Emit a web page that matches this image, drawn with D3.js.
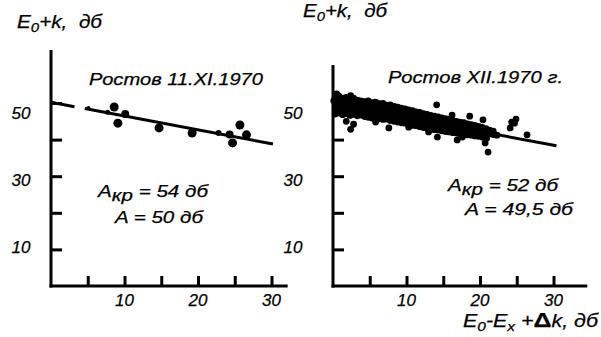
<!DOCTYPE html>
<html><head><meta charset="utf-8">
<script src="https://cdn.jsdelivr.net/npm/d3@7"></script>
<style>body{margin:0;background:#fff}svg{display:block}text{font-family:"Liberation Sans",Arial,sans-serif;font-style:italic;fill:#000;stroke:#000;stroke-width:0.25px}</style>
</head><body><svg id="c" width="601" height="337"></svg>
<script>
// ---- data ----
const xTickValues = [5, 10, 15, 20, 25, 30];
const xTickLabels = [10, 20, 30];
const yTickValues = [10, 20, 30, 40, 50];
const yTickLabels = [10, 30, 50];

// left panel: Ростов 11.XI.1970
const leftX = [7.7, 8.6, 9.1, 10.1, 14.7, 19.2, 22.8, 24.7, 25.7, 26.6, 5.1, 24.3];
const leftY = [47.5, 48.9, 44.5, 47.0, 43.2, 41.8, 41.8, 39.1, 44.0, 41.3, 48.6, 41.4];
const leftR = [2.5, 4.5, 4.5, 4, 4.5, 4.5, 3, 4.5, 4.5, 4.5, 2, 4];
const leftLineX = [[0, 3.2], [4.6, 30.2]];
const leftLineY = [[50.2, 49.0], [48.5, 38.8]];

// right panel: Ростов XII.1970 г.
const rightX = [
 0.3,0.3,0.3, 0.8,0.8,0.8, 1.3,1.3,1.3, 1.8,1.8,1.8, 2.3,2.3,2.3, 2.8,2.8,2.8, 3.3,3.3,3.3, 3.8,3.8,3.8,
 4.3,4.3,4.3, 4.8,4.8,4.8, 5.3,5.3,5.3, 5.8,5.8,5.8, 6.3,6.3,6.3, 6.8,6.8,6.8, 7.3,7.3,7.3, 7.8,7.8,7.8,
 8.3,8.3,8.3, 8.8,8.8,8.8, 9.3,9.3,9.3, 9.8,9.8,9.8, 10.3,10.3,10.3, 10.8,10.8,10.8, 11.3,11.3,11.3,
 11.8,11.8,11.8, 12.3,12.3,12.3, 12.8,12.8,12.8, 13.3,13.3,13.3, 13.8,13.8,13.8, 14.3,14.3,14.3,
 14.8,14.8,14.8, 15.3,15.3,15.3, 15.8,15.8,15.8, 16.3,16.3,16.3, 16.8,16.8,16.8, 17.3,17.3,17.3,
 17.8,17.8,17.8, 18.3,18.3,18.3, 18.8,18.8,18.8, 19.3,19.3,19.3, 19.8,19.8,19.8, 20.3,20.3,20.3,
 20.8,20.8,20.8, 21.3,21.3, 21.8,21.8, 22.3,
 0.55,0.55, 1.05,1.05, 1.55,1.55, 2.05,2.05, 2.55,2.55, 3.05,3.05, 3.55,3.55, 4.05,4.05, 4.55,4.55,
 5.05,5.05, 5.55,5.55, 6.05,6.05, 6.55,6.55, 7.05,7.05, 7.55,7.55, 8.05,8.05, 8.55,8.55, 9.05,9.05,
 9.55,9.55, 10.05,10.05, 10.55,10.55, 11.05,11.05, 11.55,11.55, 12.05,12.05, 12.55,12.55, 13.05,13.05,
 13.55,13.55, 14.05,14.05, 14.55,14.55, 15.05,15.05, 15.55,15.55, 16.05,16.05, 16.55,16.55, 17.05,17.05,
 17.55,17.55, 18.05,18.05, 18.55,18.55, 19.05,19.05, 19.55,19.55, 20.05,20.05, 20.55,20.55, 21.05, 21.55,
 2.4,1.8,2.8,5.8,7.6,10.3,13.0,14.1,14.2,15.3,16.2,16.9,17.6,18.6,20.4,20.7,20.9,21.1,21.4,
 24.1,24.3,24.7,24.9,26.4,0.5,2.4,0.1,8.6];
const rightY = [
 51.6,49.3,47.0, 51.9,49.6,47.3, 51.3,48.9,46.8, 51.5,49.4,47.1, 51.0,48.7,46.6, 51.3,49.0,46.9, 50.8,48.4,46.5, 50.6,48.6,46.7,
 50.4,48.1,46.3, 50.6,48.3,46.1, 50.1,47.9,45.9, 50.2,48.0,46.0, 49.8,47.7,45.7, 49.9,47.6,45.5, 49.4,47.4,45.6, 49.5,47.2,45.2,
 49.1,47.0,45.0, 48.9,46.8,44.8, 48.6,46.5,44.6, 48.4,46.3,44.5, 48.1,46.0,44.2, 47.9,45.9,43.9, 47.6,45.6,43.8,
 47.4,45.4,43.5, 47.1,45.2,43.3, 46.9,45.0,43.1, 46.6,44.8,42.9, 46.4,44.6,42.7, 46.2,44.4,42.6,
 45.9,44.2,42.4, 45.7,44.0,42.2, 45.5,43.8,42.1, 45.2,43.6,41.9, 45.0,43.4,41.8, 44.8,43.2,41.6,
 44.6,43.0,41.5, 44.3,42.8,41.3, 44.1,42.6,41.2, 43.9,42.4,41.0, 43.6,42.2,40.9, 43.3,42.0,40.7,
 43.0,41.8,40.6, 42.6,41.6, 42.3,41.4, 41.2,
 50.6,48.2, 50.4,48.0, 50.5,47.9, 50.0,47.8, 50.2,47.7, 49.8,47.5, 49.6,47.6, 49.4,47.3, 49.5,47.1,
 49.0,47.0, 49.2,46.9, 48.7,46.8, 48.8,46.5, 48.4,46.4, 48.3,46.2, 48.1,46.0, 47.8,45.8, 47.6,45.5,
 47.4,45.4, 47.0,45.1, 46.9,44.9, 46.7,44.7, 46.4,44.5, 46.2,44.3, 45.9,44.0, 45.7,43.9,
 45.5,43.6, 45.3,43.5, 45.0,43.3, 44.9,43.1, 44.6,42.9, 44.4,42.7, 44.2,42.6, 44.0,42.4,
 43.8,42.2, 43.5,42.0, 43.3,41.9, 43.1,41.7, 42.9,41.6, 42.6,41.4, 42.4,41.2, 42.2, 41.9,
 42.8,45.0,44.2,44.8,43.2,43.4,42.1,49.5,40.7,42.6,46.7,39.9,40.7,46.4,45.4,39.1,40.4,36.6,41.8,
 43.2,44.8,44.5,45.6,41.3,52.5,52.0,50.6,48.9];
const rightLineX = [[0, 30.4]];
const rightLineY = [[49.8, 38.3]];

// ---- drawing ----
const svg = d3.select("#c");
const y = d3.scaleLinear().domain([0, 10]).range([286, 249.4]);
const yLabel = d3.scaleLinear().domain([10, 50]).range([247, 113]);

function panel(cfg) {
  const x = d3.scaleLinear().domain([0, 10]).range([cfg.x0, cfg.x0 + 73.5]);
  const g = svg.append("g");
  const line = d3.line().x(d => x(d[0])).y(d => y(d[1]));
  cfg.lx.forEach((xs, i) => {
    g.append("path").datum(xs.map((v, j) => [v, cfg.ly[i][j]]))
      .attr("d", line).attr("fill", "none").attr("stroke", "#000").attr("stroke-width", 3);
  });
  g.selectAll("circle.p").data(cfg.px.map((v, i) => [v, cfg.py[i], cfg.pr ? cfg.pr[i] : cfg.r]))
    .join("circle").attr("cx", d => x(d[0])).attr("cy", d => y(d[1])).attr("r", d => d[2]).attr("fill", "#000");
  const xAxis = d3.axisTop(x).tickValues(xTickValues).tickSize(10).tickFormat("");
  g.append("g").attr("transform", `translate(0,${y(0)})`).call(xAxis)
    .call(s => { s.select(".domain").remove(); s.selectAll("line").attr("stroke", "#000").attr("stroke-width", 3); });
  const yAxis = d3.axisRight(y).tickValues(yTickValues).tickSize(11).tickFormat("");
  g.append("g").attr("transform", `translate(${x(0)},0)`).call(yAxis)
    .call(s => { s.select(".domain").remove(); s.selectAll("line").attr("stroke", "#000").attr("stroke-width", 3); });
  g.append("line").attr("x1", x(0)).attr("x2", x(0)).attr("y1", cfg.top).attr("y2", y(0) + 1.5)
    .attr("stroke", "#000").attr("stroke-width", 3);
  g.append("line").attr("x1", x(0) - 1.5).attr("x2", x(cfg.xmax)).attr("y1", y(0)).attr("y2", y(0))
    .attr("stroke", "#000").attr("stroke-width", 3);
  g.selectAll("text.xl").data(xTickLabels).join("text")
    .attr("x", d => x(d)).attr("y", 306).attr("text-anchor", "middle").attr("font-size", 17).text(d => d);
  g.selectAll("text.yl").data(yTickLabels).join("text")
    .attr("x", cfg.ylx).attr("y", d => yLabel(d)).attr("dy", "0.36em").attr("text-anchor", "middle")
    .attr("font-size", 17).text(d => d);
  return x;
}

panel({x0: 51, top: 50, xmax: 32.2, lx: leftLineX, ly: leftLineY, px: leftX, py: leftY, pr: leftR, ylx: 21});
panel({x0: 333, top: 65, xmax: 34.6, lx: rightLineX, ly: rightLineY, px: rightX, py: rightY, r: 3.4, ylx: 293});

function fit(t, len) { t.attr("textLength", len).attr("lengthAdjust", "spacingAndGlyphs"); return t; }

function title(xp, yp, len) {
  const t = svg.append("text").attr("x", xp).attr("y", yp).attr("font-size", 18);
  t.append("tspan").text("E");
  t.append("tspan").attr("font-size", 13).attr("dy", 4).text("0");
  t.append("tspan").attr("dy", -4).text("+k,\u00a0 дб");
  fit(t, len);
}
title(17, 28, 85);
title(303, 17, 84);

fit(svg.append("text").attr("x", 89).attr("y", 85).attr("font-size", 17).text("Ростов 11.XI.1970"), 174);
fit(svg.append("text").attr("x", 388).attr("y", 83).attr("font-size", 17).text("Ростов XII.1970 г."), 175);

function akr(xp, yp, val, len) {
  const t = svg.append("text").attr("x", xp).attr("y", yp).attr("font-size", 17);
  t.append("tspan").text("A");
  t.append("tspan").attr("dy", 4).text("кр");
  t.append("tspan").attr("dy", -4).text(" = " + val + " дб");
  fit(t, len);
}
akr(98, 197, "54", 110);
fit(svg.append("text").attr("x", 115).attr("y", 223).attr("font-size", 17).text("A = 50 дб"), 88);
akr(448, 191, "52", 110);
fit(svg.append("text").attr("x", 465).attr("y", 215).attr("font-size", 17).text("A =  49,5 дб"), 108);

const bl = svg.append("text").attr("x", 463).attr("y", 327).attr("font-size", 18);
bl.append("tspan").text("E");
bl.append("tspan").attr("font-size", 13).attr("dy", 4).text("0");
bl.append("tspan").attr("dy", -4).text("-E");
bl.append("tspan").attr("font-size", 13).attr("dy", 4).text("x");
bl.append("tspan").attr("dy", -4).text(" +");
bl.append("tspan").attr("font-weight", "bold").attr("font-style", "normal").attr("font-size", 21).text("Δ");
bl.append("tspan").text("k, дб");
fit(bl, 135);
</script></body></html>
